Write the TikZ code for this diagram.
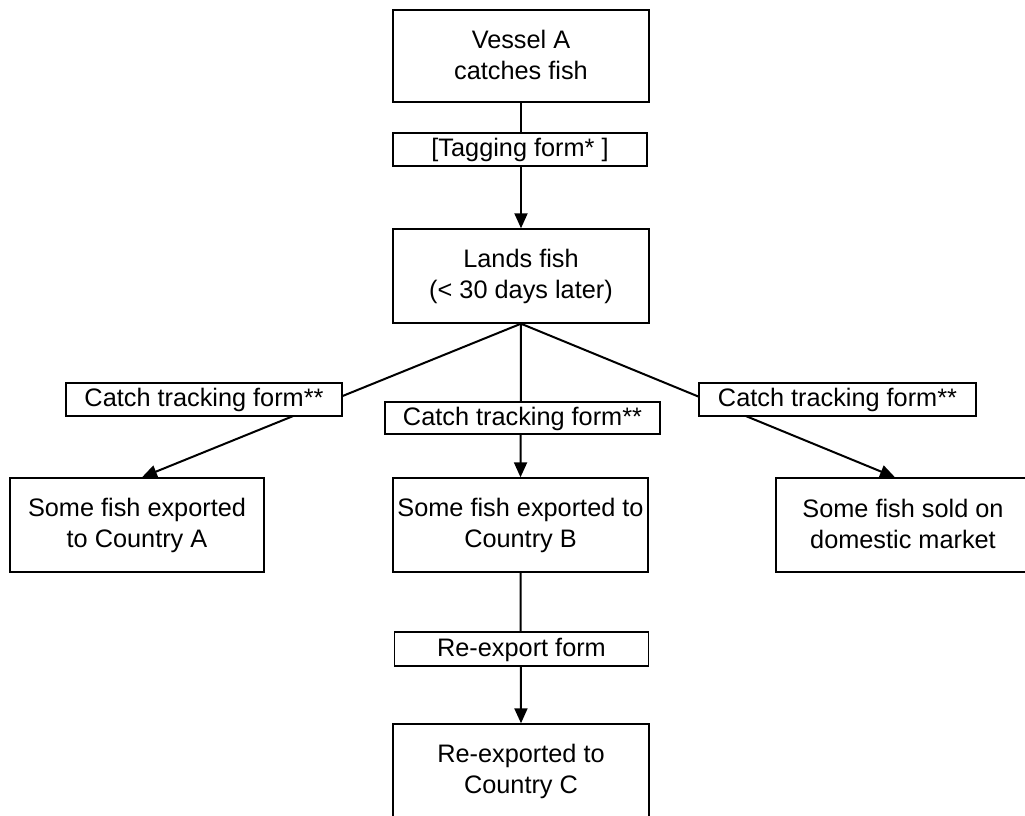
\documentclass[tikz,border=0pt]{standalone}
\usepackage{fontspec}
\setmainfont{Liberation Sans}
\usetikzlibrary{arrows.meta,backgrounds}
\newcommand\mystrut{\rule[-5pt]{0pt}{25pt}}
\begin{document}
\begin{tikzpicture}[x=1pt,y=-1pt,
  box/.style={draw=black,line width=1.4pt,fill=white,inner sep=0pt,align=center,
    font=\fontsize{25.3}{31}\selectfont},
  conn/.style={line width=2pt,draw=black},
  arr/.style={conn,-{Triangle[length=15pt,width=13pt]}}]
\useasboundingbox (0,0) rectangle (1025,816);
\clip (0,0) rectangle (1025,816);
\node[box,minimum width=256pt,minimum height=92pt] (vessel) at (521,56) {\mystrut Vessel A\\\mystrut catches fish};
\node[box,minimum width=254pt,minimum height=33pt] (tag) at (520,149.5) {\mystrut[Tagging form* ]};
\node[box,minimum width=256pt,minimum height=94pt] (lands) at (521,276) {\mystrut Lands fish\\\mystrut(< 30 days later)};
\node[box,minimum width=276pt,minimum height=33pt] (ctfl) at (204,399.5) {\mystrut Catch tracking form**};
\node[box,minimum width=275pt,minimum height=32pt] (ctfc) at (522.5,418) {\mystrut Catch tracking form**};
\node[box,minimum width=277pt,minimum height=33pt] (ctfr) at (837.5,399.5) {\mystrut Catch tracking form**};
\node[box,minimum width=254pt,minimum height=94pt] (ca) at (137,525) {\mystrut Some fish exported\\\mystrut to Country A};
\node[box,minimum width=255pt,minimum height=94pt] (cb) at (520.5,525) {\mystrut Some fish exported to\\\mystrut Country B};
\node[box,minimum width=254pt,minimum height=94pt] (dom) at (903,525) {\mystrut Some fish sold on\\\mystrut domestic market};
\node[box,minimum width=254pt,minimum height=34pt] (rex) at (521.5,649) {\mystrut Re-export form};
\node[box,minimum width=256pt,minimum height=94pt] (cc) at (521,771) {\mystrut Re-exported to\\\mystrut Country C};
\coordinate (catop) at ([xshift=5pt]ca.north);
\coordinate (domtop) at ([xshift=-8pt]dom.north);
\begin{pgfonlayer}{background}
\draw[arr] (vessel.south) -- (lands.north);
\draw[arr] (lands.south) -- (catop);
\draw[arr] (lands.south) -- (cb.north);
\draw[arr] (lands.south) -- (domtop);
\draw[arr] (cb.south) -- (cc.north);
\end{pgfonlayer}
\end{tikzpicture}
\end{document}
